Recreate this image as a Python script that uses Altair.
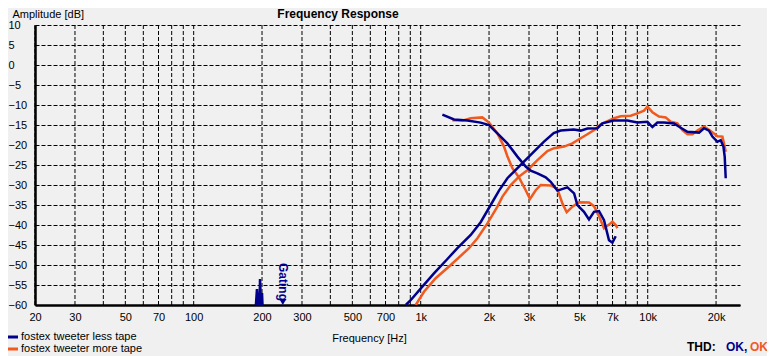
import altair as alt
import pandas as pd

BLUE = "#00008C"
ORANGE = "#F05A1E"
FONT = "Liberation Sans"

SER_LESS = "fostex tweeter less tape"
SER_MORE = "fostex tweeter more tape"

# blue: tweeter less tape (rising part)
blue_hp_f = [860, 903, 1017, 1144, 1311, 1451, 1661, 1837, 2034, 2213, 2409, 2570, 2842,
             3146, 3483, 3853, 4137, 4721, 5067, 5424, 6004, 6316, 7080, 8138, 9009, 9970,
             10489, 11032, 11796, 13058, 13977, 14959, 16826, 17701, 18621, 19275, 20277,
             20970, 21552, 21837, 22060]
blue_hp_db = [-60, -58.8, -55.4, -52.1, -48.5, -45.8, -42.5, -39.3, -35, -31.4, -28.3, -26.7,
              -24.2, -21.7, -19.2, -17, -16.4, -16.1, -16.4, -15.9, -15.8, -14.6, -13.9, -13.9,
              -14.4, -14.2, -15.5, -14.4, -14.4, -14.6, -15.7, -16.7, -16.9, -15.8, -16.4,
              -17.9, -19.2, -18.8, -20.4, -22.9, -28.3]
# blue: falling part
blue_lp_f = [1246, 1402, 1606, 1837, 2000, 2177, 2409, 2667, 2901, 3052, 3267, 3553, 3738,
             4001, 4429, 4740, 4900, 5240, 5513, 5800, 6103, 6420, 6753, 6990, 7228]
blue_lp_db = [-12.4, -13.6, -13.9, -14.4, -15, -17.1, -19.6, -22.9, -25.4, -26.4, -27.1, -28.1,
              -29.2, -31.4, -30.6, -32.1, -35, -36.7, -38.6, -36.7, -36.5, -38.8, -43.8, -44.4,
              -42.8]
# blue: low-frequency spikes
blue_spike_f = [188, 190, 192, 195, 196, 198, 200, 201]
blue_spike_db = [-60, -56, -60, -60, -53.5, -60, -57, -60]

# orange: tweeter more tape (rising part)
orange_hp_f = [951, 1034, 1164, 1356, 1632, 1778, 1967, 2177, 2291, 2492, 2710, 2951, 3267,
               3615, 3870, 4278, 4660, 5067, 5424, 5901, 6209, 7104, 7604, 8415, 9009, 9632,
               9970, 10489, 11214, 12001, 12627, 13515, 14220, 14959, 15735, 16553, 17701,
               18945, 20277, 21335, 21682, 22060]
orange_hp_db = [-60, -56.7, -53.3, -50, -45.8, -43.3, -39.6, -35.4, -32.9, -30, -27.9, -26.3,
                -23.8, -21.5, -20.8, -20.4, -19.6, -18.3, -17.3, -16, -14.8, -13.3, -12.8,
                -12.7, -12.1, -11.4, -10.4, -11.8, -12.9, -13.1, -14.2, -14.6, -16.3, -17.3,
                -17.3, -16.4, -15.4, -16.5, -17.8, -17.9, -19.6, -21.7]
# orange: falling part
orange_lp_f = [1379, 1526, 1661, 1869, 2000, 2177, 2328, 2409, 2535, 2710, 2901, 3030, 3211,
               3378, 3738, 4001, 4209, 4397, 4660, 4981, 5513, 5800, 6103, 6420, 6753, 6990,
               7228, 7354]
orange_lp_db = [-13.8, -13.9, -13.3, -13.1, -14.4, -17.1, -20.4, -22.8, -25.8, -28.1, -31.3,
                -33.5, -31.3, -30, -30.1, -31, -34.6, -36.8, -35.4, -34.3, -34.4, -35.3, -37.8,
                -40.8, -39.9, -39.2, -40, -40.8]

grid_freqs = [20, 30, 40, 50, 60, 70, 80, 90, 100, 200, 300, 400, 500, 600, 700, 800, 900,
              1000, 2000, 3000, 4000, 5000, 6000, 7000, 8000, 9000, 10000, 20000]
x_label_values = [20, 30, 50, 70, 100, 200, 300, 500, 700, 1000, 2000, 3000, 5000, 7000,
                  10000, 20000]
y_tick_values = [-60, -55, -50, -45, -40, -35, -30, -25, -20, -15, -10, -5, 0, 5, 10]

gating_freq = [247]
gating_label = ["Gating"]
gating_text_db = [-49.5]
gating_marker_db = [-59.3]


def seg_frame(series, seg, fs, ds):
    return pd.DataFrame({"series": series, "seg": seg, "freq": fs, "db": ds})


df_blue = pd.concat([
    seg_frame(SER_LESS, "hp", blue_hp_f, blue_hp_db),
    seg_frame(SER_LESS, "lp", blue_lp_f, blue_lp_db),
    seg_frame(SER_LESS, "spike", blue_spike_f, blue_spike_db),
])
df_orange = pd.concat([
    seg_frame(SER_MORE, "hp", orange_hp_f, orange_hp_db),
    seg_frame(SER_MORE, "lp", orange_lp_f, orange_lp_db),
])

xscale = alt.Scale(type="log", domain=[20, 25500], nice=False)
yscale = alt.Scale(domain=[-60, 10], nice=False, zero=False)

xaxis = alt.Axis(
    values=x_label_values,
    labelExpr="datum.value >= 1000 ? (datum.value / 1000) + 'k' : '' + datum.value",
    grid=False, tickSize=0, labelPadding=6, labelFlush=False, labelOverlap=False,
    domainColor="black", domainWidth=2.5,
    labelFont=FONT, labelFontSize=11, labelColor="black",
    title="Frequency [Hz]", titleX=334, titleY=33, titleAlign="center",
    titleBaseline="middle", titleFont=FONT, titleFontSize=11,
    titleFontWeight="normal", titleColor="black",
)
yaxis = alt.Axis(
    values=y_tick_values, grid=True, gridDash=[4, 2], gridColor="black",
    gridOpacity=1, gridWidth=1, tickSize=0, labelPadding=27, labelAlign="left",
    labelOverlap=False, labelFlush=False,
    domainColor="black", domainWidth=2.5,
    labelFont=FONT, labelFontSize=11, labelColor="black",
    title="Amplitude [dB]", titleAngle=0, titleX=-23, titleY=-11,
    titleAlign="left", titleBaseline="middle", titleFont=FONT, titleFontSize=11,
    titleFontWeight="normal", titleColor="black",
)

X = alt.X("freq:Q", scale=xscale, axis=xaxis)
Y = alt.Y("db:Q", scale=yscale, axis=yaxis)

color = alt.Color(
    "series:N",
    scale=alt.Scale(domain=[SER_LESS, SER_MORE], range=[BLUE, ORANGE]),
    legend=None,
)

vgrid = alt.Chart(pd.DataFrame({"freq": grid_freqs})).mark_rule(
    color="black", strokeDash=[4, 2], strokeWidth=1
).encode(x=X)

hgrid_base = alt.Chart(pd.DataFrame({"db": y_tick_values})).mark_rule(
    opacity=0
).encode(y=Y)

orange_lines = alt.Chart(df_orange).mark_line(strokeWidth=2.5, clip=True).encode(
    x=X, y=Y, color=color, detail="seg:N"
)
blue_lines = alt.Chart(df_blue).mark_line(strokeWidth=2.5, clip=True).encode(
    x=X, y=Y, color=color, detail="seg:N"
)

gating_text = alt.Chart(pd.DataFrame({"freq": gating_freq, "label": gating_label,
                                      "db": gating_text_db})).mark_text(
    angle=90, align="left", baseline="middle", font=FONT, fontSize=12,
    fontWeight="bold", color=BLUE
).encode(x=X, y=Y, text="label:N")
gating_tri = alt.Chart(pd.DataFrame({"freq": gating_freq, "db": gating_marker_db})).mark_point(
    shape="triangle-down", filled=True, size=45, color=BLUE, opacity=1
).encode(x=X, y=Y)


def label_text(txt, x, y, col, size=11, weight="normal", align="left"):
    return alt.Chart(pd.DataFrame({"t": [txt]})).mark_text(
        font=FONT, fontSize=size, fontWeight=weight, color=col, align=align,
        baseline="middle"
    ).encode(text="t:N", x=alt.value(x), y=alt.value(y))


def legend_swatch(txt, y, col):
    return alt.Chart(pd.DataFrame({"t": [txt]})).mark_rule(
        strokeWidth=3, color=col
    ).encode(x=alt.value(-27), x2=alt.value(-17), y=alt.value(y))


title_text = label_text("Frequency Response", 303, -11, "black", 12, "bold", "center")
leg1_sw = legend_swatch(SER_LESS, 312, BLUE)
leg1_tx = label_text(SER_LESS, -14, 312, "black")
leg2_sw = legend_swatch(SER_MORE, 324, ORANGE)
leg2_tx = label_text(SER_MORE, -14, 324, "black")

thd1 = label_text("THD:", 652, 322, "black", 12, "bold")
thd2 = label_text("OK,", 691, 322, BLUE, 12, "bold")
thd3 = label_text("OK", 715, 322, ORANGE, 12, "bold")

chart = alt.layer(
    vgrid, hgrid_base, orange_lines, blue_lines, gating_tri, gating_text,
    title_text, leg1_sw, leg1_tx, leg2_sw, leg2_tx, thd1, thd2, thd3
).properties(
    width=705, height=280,
    autosize=alt.AutoSizeParams(type="none"),
    padding={"left": 27, "top": 17, "right": 27, "bottom": 51},
).configure(
    background="#F0F0F0",
).configure_view(
    stroke=None, fill="#F0F0F0"
)

chart.save("out.html", embed_options={"renderer": "svg", "actions": False})
